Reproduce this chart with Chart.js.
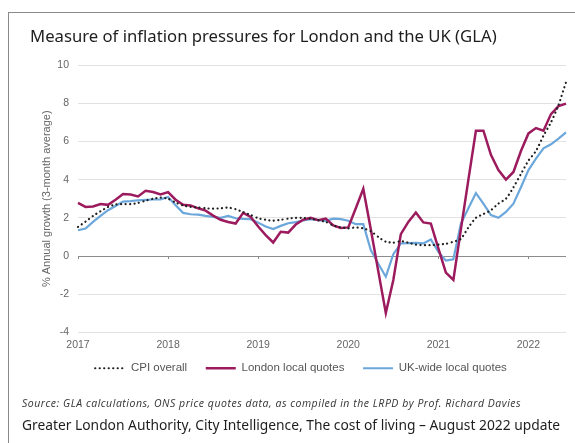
<!DOCTYPE html>
<html>
<head>
<meta charset="utf-8">
<script src="https://cdn.jsdelivr.net/npm/chart.js@4.4.0/dist/chart.umd.min.js"></script>
<style>
  body { margin: 0; background: #fff; width: 575px; height: 443px; overflow: hidden; position: relative; }
  #frame { position: absolute; left: 8px; top: 12px; width: 620px; height: 500px; border: 1px solid #8a8a8a; }
  #title { position: absolute; left: 30px; top: 24px; font: 16.7px "Noto Sans", sans-serif; color: #1e1e1e; white-space: nowrap; }
  #chart { position: absolute; left: 0; top: 0; }
  #source { position: absolute; left: 22px; top: 396px; font: italic 10.5px "Open Sans", sans-serif; letter-spacing: 0.53px; color: #333; white-space: nowrap; }
  #footer { position: absolute; left: 22px; top: 415px; font: 13.8px "Noto Sans", sans-serif; color: #1e1e1e; white-space: nowrap; }
</style>
</head>
<body>
<div id="frame"></div>
<canvas id="chart" width="575" height="443"></canvas>
<div id="title">Measure of inflation pressures for London and the UK (GLA)</div>
<div id="source">Source: GLA calculations, ONS price quotes data, as compiled in the LRPD by Prof. Richard Davies</div>
<div id="footer">Greater London Authority, City Intelligence, The cost of living – August 2022 update</div>
<script>
const yearLabels = ["2017", "2018", "2019", "2020", "2021", "2022"];
const monthNames = ["Jan", "Feb", "Mar", "Apr", "May", "Jun", "Jul", "Aug", "Sep", "Oct", "Nov", "Dec"];
const yTicks = [-4, -2, 0, 2, 4, 6, 8, 10];

// monthly, Jan 2017 - Jun 2022
const cpiOverall = [
  1.53, 1.80, 2.10, 2.35, 2.57, 2.70, 2.72, 2.72, 2.78, 2.90, 3.00, 3.06,
  3.00, 2.80, 2.65, 2.57, 2.54, 2.50, 2.48, 2.50, 2.54, 2.45, 2.30, 2.15,
  1.98, 1.90, 1.85, 1.90, 1.96, 2.00, 2.00, 1.95, 1.88, 1.79, 1.60, 1.50,
  1.45, 1.50, 1.45, 1.30, 1.00, 0.75, 0.70, 0.78, 0.70, 0.60, 0.57, 0.57,
  0.60, 0.64, 0.75, 0.90, 1.50, 2.00, 2.20, 2.40, 2.75, 3.00, 3.60, 4.30,
  5.00, 5.50, 6.30, 7.00, 7.90, 9.10
];
const londonQuotes = [
  2.78, 2.57, 2.60, 2.72, 2.68, 2.95, 3.25, 3.22, 3.12, 3.42, 3.35, 3.22,
  3.35, 2.95, 2.68, 2.65, 2.50, 2.38, 2.12, 1.90, 1.78, 1.70, 2.26, 2.05,
  1.55, 1.10, 0.71, 1.27, 1.23, 1.65, 1.90, 2.00, 1.88, 1.96, 1.61, 1.47,
  1.50, 2.50, 3.52, 1.40, -0.80, -2.98, -1.25, 1.15, 1.79, 2.28, 1.76, 1.70,
  0.40, -0.87, -1.25, 1.40, 4.00, 6.56, 6.56, 5.30, 4.50, 4.00, 4.40, 5.50,
  6.42, 6.70, 6.56, 7.43, 7.85, 7.98
];
const ukQuotes = [
  1.35, 1.44, 1.79, 2.10, 2.40, 2.62, 2.85, 2.88, 2.92, 2.94, 2.96, 2.97,
  3.09, 2.66, 2.26, 2.19, 2.17, 2.10, 2.05, 2.00, 2.10, 1.98, 1.95, 1.93,
  1.75, 1.55, 1.41, 1.58, 1.72, 1.78, 1.86, 1.93, 1.88, 1.84, 1.96, 1.93,
  1.85, 1.67, 1.67, 0.31, -0.40, -1.08, 0.10, 0.66, 0.68, 0.69, 0.66, 0.87,
  0.22, -0.24, -0.17, 1.70, 2.50, 3.30, 2.75, 2.15, 2.00, 2.31, 2.74, 3.60,
  4.50, 5.10, 5.64, 5.85, 6.15, 6.47
];

const monthLabels = [];
yearLabels.forEach(y => monthNames.forEach(m => monthLabels.push(m + " " + y)));
monthLabels.length = cpiOverall.length;

const axisFont = { family: "'Liberation Sans', Arial, sans-serif", size: 10.5 };

// small year ticks on the zero line
const zeroTicks = {
  id: "zeroTicks",
  afterDraw(chart) {
    const x = chart.scales.x, y = chart.scales.y;
    const ctx = chart.ctx;
    const y0 = y.getPixelForValue(0);
    ctx.save();
    ctx.strokeStyle = "#8c8c8c";
    ctx.lineWidth = 1;
    monthLabels.forEach((lab, i) => {
      if (!lab.startsWith("Jan")) return;
      const px = Math.round(x.getPixelForValue(i)) + 0.5;
      ctx.beginPath();
      ctx.moveTo(px, y0);
      ctx.lineTo(px, y0 + 3);
      ctx.stroke();
    });
    ctx.restore();
  }
};

new Chart(document.getElementById("chart"), {
  type: "line",
  data: {
    labels: monthLabels,
    datasets: [
      {
        label: "CPI overall",
        data: cpiOverall,
        borderColor: "#1f1f1f",
        borderWidth: 2.2,
        borderDash: [0.1, 4.4],
        borderCapStyle: "round",
        pointRadius: 0,
        tension: 0.2
      },
      {
        label: "London local quotes",
        data: londonQuotes,
        borderColor: "#9c1b5e",
        borderWidth: 2.5,
        pointRadius: 0,
        tension: 0
      },
      {
        label: "UK-wide local quotes",
        data: ukQuotes,
        borderColor: "#6ba7db",
        borderWidth: 2.2,
        pointRadius: 0,
        tension: 0
      }
    ]
  },
  options: {
    responsive: false,
    animation: false,
    layout: { padding: { left: 36, right: 9, top: 65, bottom: 59 } },
    plugins: {
      legend: {
        display: true,
        position: "bottom",
        labels: {
          usePointStyle: true,
          pointStyle: "line",
          pointStyleWidth: 30,
          padding: 9,
          color: "#555",
          font: { family: "'Liberation Sans', Arial, sans-serif", size: 11.5 },
          generateLabels(chart) {
            const items = Chart.defaults.plugins.legend.labels.generateLabels(chart);
            items.forEach((it, i) => {
              const ds = chart.data.datasets[i];
              it.lineWidth = ds.borderWidth;
              it.strokeStyle = ds.borderColor;
              it.lineDash = ds.borderDash || [];
              it.lineCap = ds.borderCapStyle || "butt";
              if (i < items.length - 1) it.text = it.text + "   ";
            });
            return items;
          }
        }
      },
      tooltip: { enabled: false }
    },
    scales: {
      x: {
        type: "category",
        offset: false,
        afterFit(scale) { scale.height = 21; },
        grid: { display: false, drawTicks: false },
        border: { display: false },
        ticks: {
          autoSkip: false,
          maxRotation: 0,
          padding: 6,
          color: "#666",
          font: axisFont,
          callback: function(v, i) {
            const lab = monthLabels[i];
            return lab.startsWith("Jan") ? lab.slice(4) : "";
          }
        }
      },
      y: {
        min: -4,
        max: 10,
        afterFit(scale) { scale.width = 42; },
        afterBuildTicks(scale) { scale.ticks = yTicks.map(v => ({ value: v })); },
        grid: {
          drawTicks: false,
          color: ctx => ctx.tick && ctx.tick.value === 0 ? "#8c8c8c" : "#e2e2e2"
        },
        border: { display: false },
        ticks: { padding: 9, color: "#666", font: axisFont },
        title: {
          display: true,
          text: "% Annual growth (3-month average)",
          color: "#666",
          font: { family: "'Liberation Sans', Arial, sans-serif", size: 11 }
        }
      }
    }
  },
  plugins: [zeroTicks]
});
</script>
</body>
</html>
